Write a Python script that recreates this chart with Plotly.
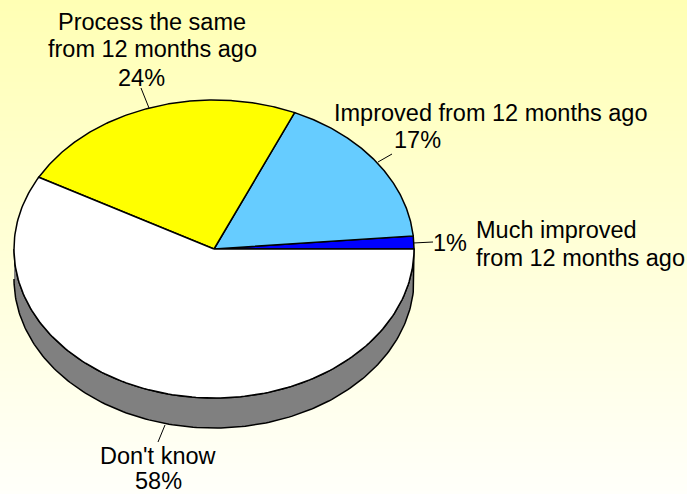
import numpy as np
import plotly.graph_objects as go

labels = ['Much improved', 'from 12 months ago', 'Improved from 12 months ago',
          'Process the same', 'from 12 months ago', "Don't know"]
values = [1.4, 17, 23.6, 58]
percents = ['1%', '17%', '24%', '58%']
colors = ['#0000FF', '#66CCFF', '#FFFF00', '#FFFFFF']

W, H = 687, 494
cx, cy, rx, ry, depth = 214, 249, 200, 149, 30


def rim(a0, a1, dy=0):
    t = np.radians(np.linspace(a0, a1, 181))
    return cx + rx * np.cos(t), cy - ry * np.sin(t) + dy


fig = go.Figure()

# background gradient
fig.add_trace(go.Heatmap(x=[0, W], y=[0, H], z=[[0, 0], [1, 1]], zsmooth='best',
                         colorscale=[[0, '#FFFFB4'], [1, '#FFFFFA']],
                         showscale=False, hoverinfo='skip'))

# side wall of the pie
x1, y1 = rim(180, 360)
x2, y2 = rim(360, 180, depth)
fig.add_trace(go.Scatter(x=np.r_[x1, x2], y=np.r_[y1, y2], mode='lines', fill='toself',
                         fillcolor='#808080', line=dict(color='black', width=1.5),
                         hoverinfo='skip'))

# slices
start = 0
for val, col in zip(values, colors):
    end = start + val * 3.6
    xs, ys = rim(start, end)
    fig.add_trace(go.Scatter(x=np.r_[cx, xs, cx], y=np.r_[cy, ys, cy], mode='lines',
                             fill='toself', fillcolor=col,
                             line=dict(color='black', width=1.5), hoverinfo='skip'))
    start = end

# leader lines
leaders = [([413, 433], [243, 242]), ([378, 392], [162, 154]),
           ([149, 141], [108, 88]), ([165, 158], [425, 442])]
for lx, ly in leaders:
    fig.add_trace(go.Scatter(x=lx, y=ly, mode='lines', line=dict(color='black', width=1),
                             hoverinfo='skip'))

# text, one annotation per line so the spacing can follow the reference
texts = [
    (labels[0], 474, 230, 'left'),
    (labels[1], 474, 258, 'left'),
    (percents[0], 450, 243, 'center'),
    (labels[2], 491, 113, 'center'),
    (percents[1], 417, 140, 'center'),
    (labels[3], 152, 22, 'center'),
    (labels[4], 152, 49, 'center'),
    (percents[2], 141, 78, 'center'),
    (labels[5], 158, 456, 'center'),
    (percents[3], 158, 480.5, 'center'),
]
annotations = [dict(x=x, y=y, text=t, showarrow=False, xanchor=a, yanchor='middle',
                    font=dict(family='Liberation Sans', size=23.5, color='black'))
               for t, x, y, a in texts]

fig.update_layout(
    width=W, height=H, margin=dict(l=0, r=0, t=0, b=0), showlegend=False,
    paper_bgcolor='#FFFFE0', plot_bgcolor='#FFFFE0', annotations=annotations,
    xaxis=dict(range=[0, W], visible=False),
    yaxis=dict(range=[H, 0], visible=False),
)
fig.write_html('out.html', config=dict(displayModeBar=False),
               post_script="document.body.style.margin='0';document.documentElement.style.overflow='hidden';")
